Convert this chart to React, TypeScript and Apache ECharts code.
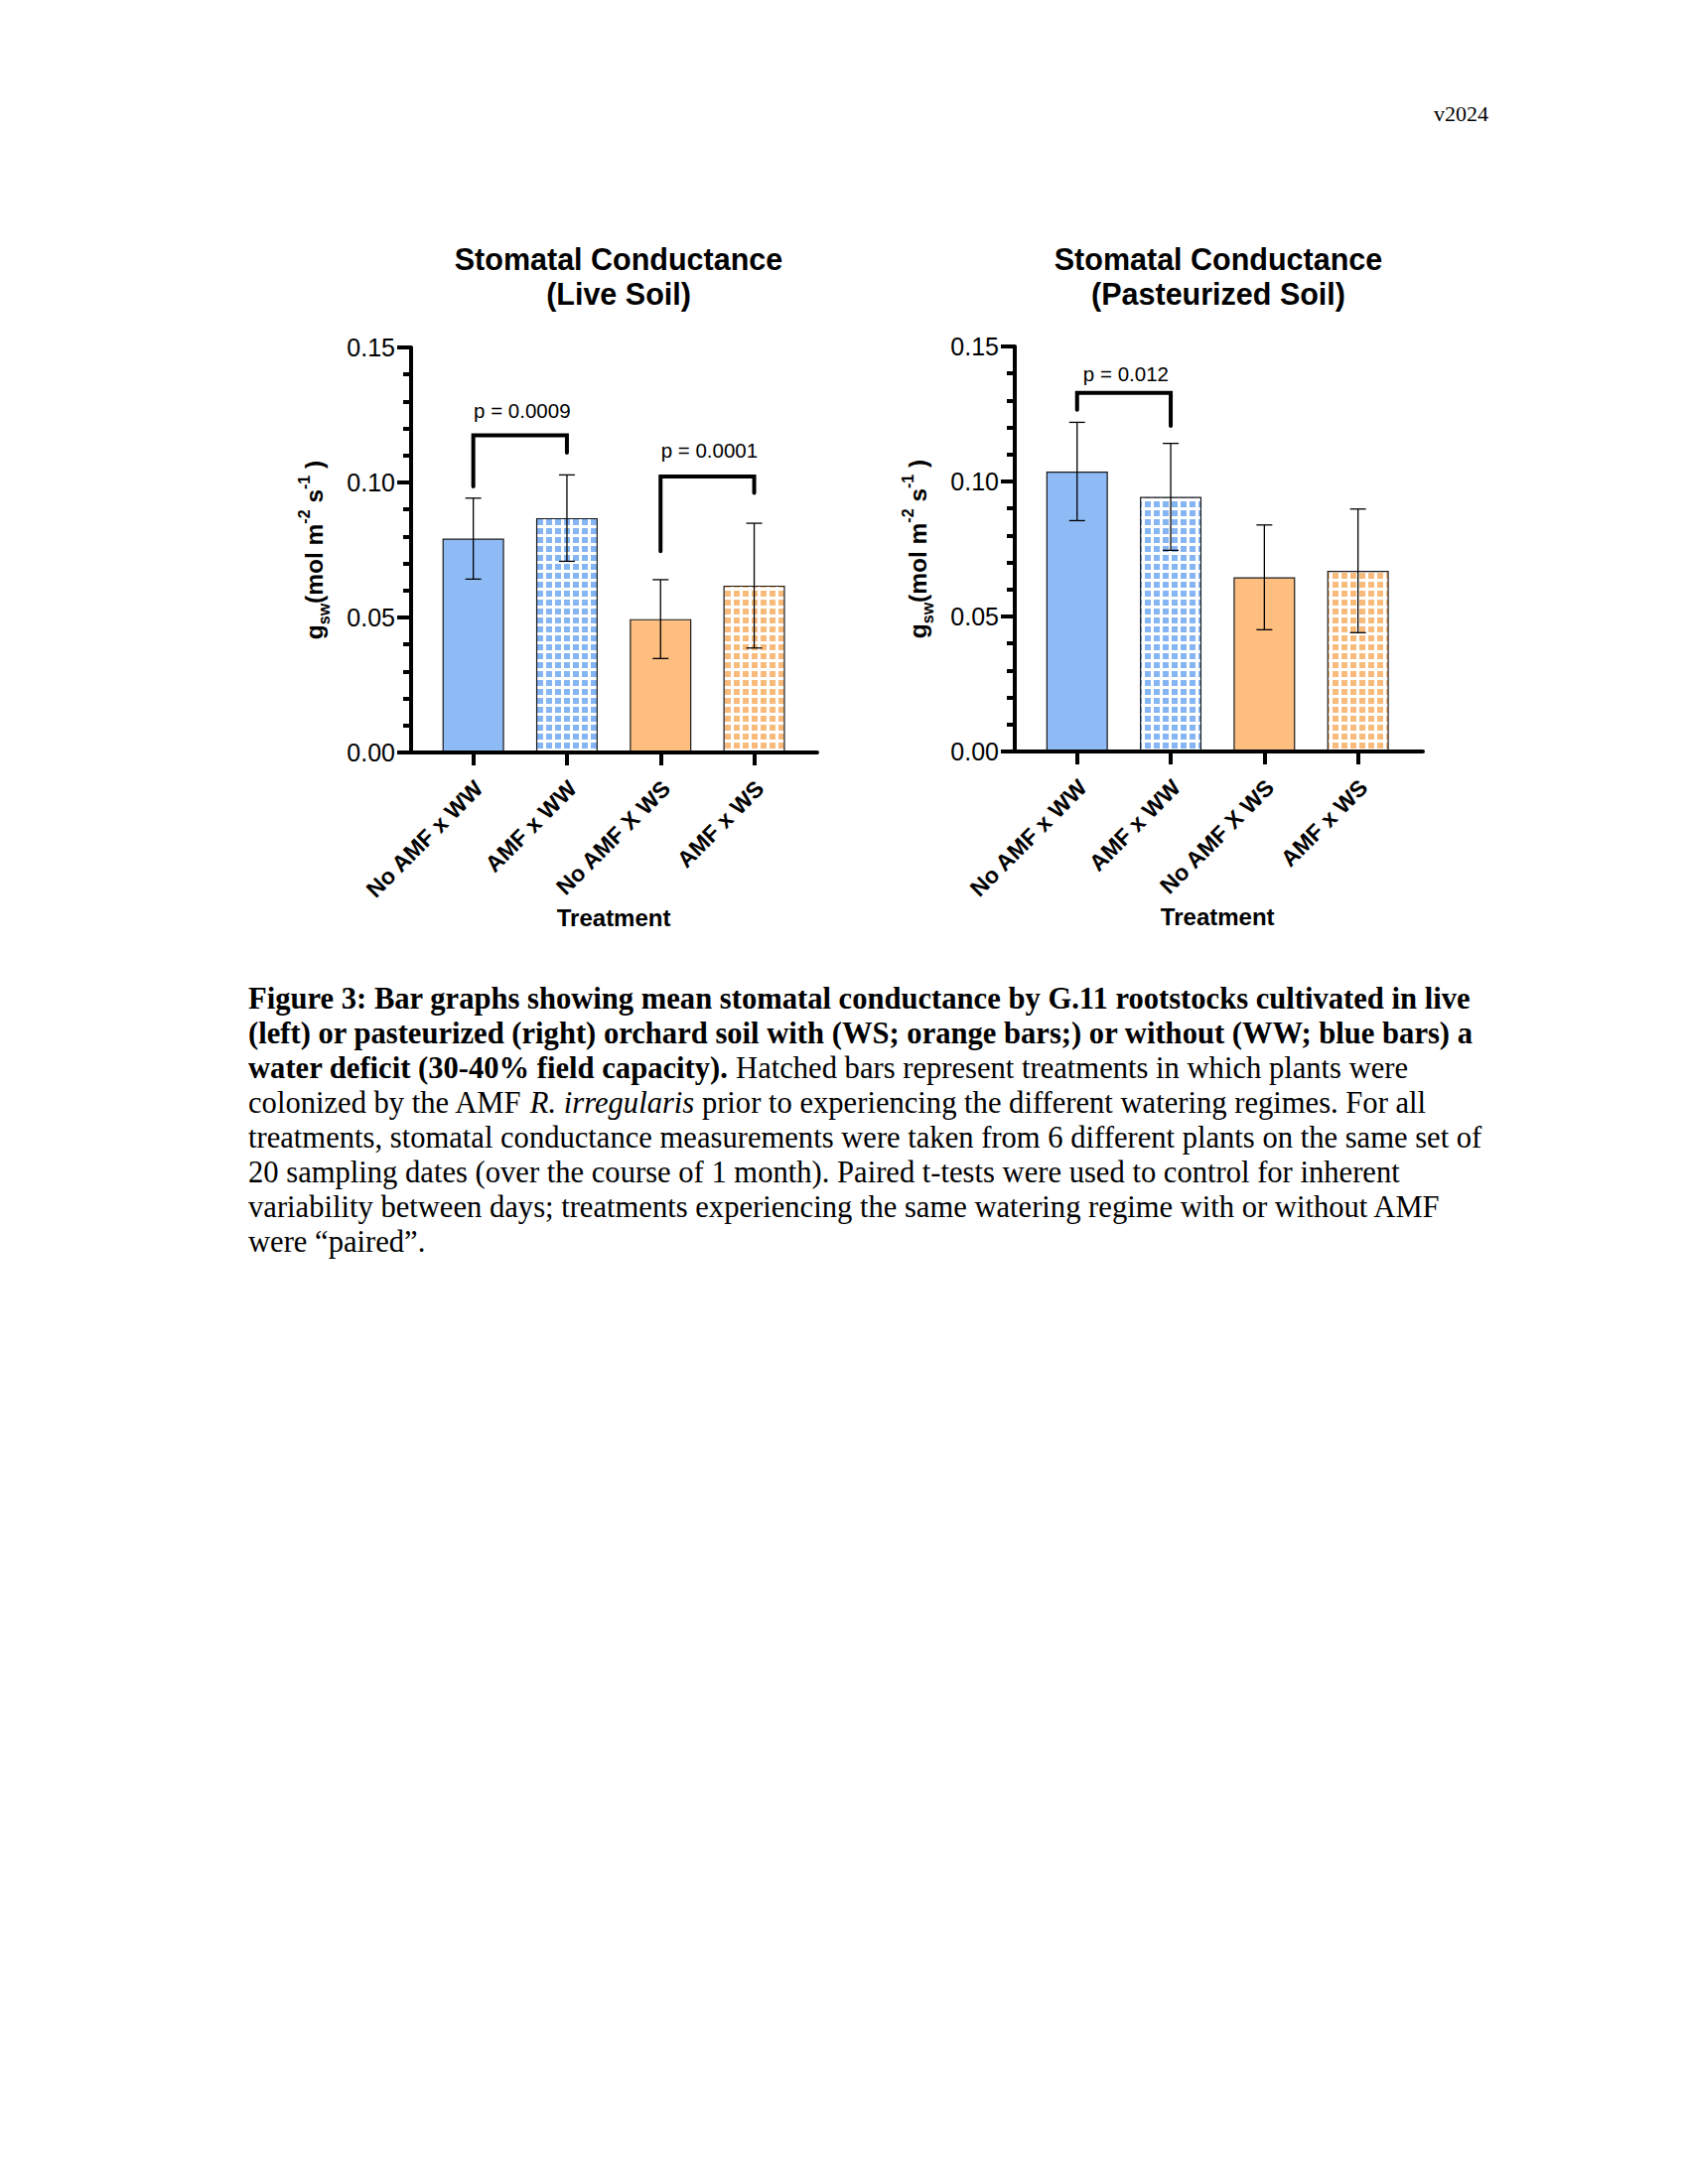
import React, { useEffect, useRef } from 'react';
import * as echarts from 'echarts';

// ---------- data ----------
const categories = ['No AMF x WW', 'AMF x WW', 'No AMF X WS', 'AMF x WS'];
const hatched = [false, true, false, true];
const regime = ['WW', 'WW', 'WS', 'WS'];

const liveMean = [0.0792, 0.0868, 0.0494, 0.0618];
const liveSD = [0.015, 0.016, 0.0146, 0.0231];
const pastMean = [0.1037, 0.0943, 0.0645, 0.0669];
const pastSD = [0.0182, 0.0198, 0.0194, 0.0229];

const yMin = 0;
const yMax = 0.15;
const yInterval = 0.05;

const liveBracketFrom = [0, 2];
const liveBracketTo = [1, 3];
const liveBracketTop = [0.1175, 0.1022];
const liveBracketLeftEnd = [0.0985, 0.0745];
const liveBracketRightEnd = [0.111, 0.0961];
const liveBracketLabelY = [0.1267, 0.1118];
const liveBracketLabel = ['p = 0.0009', 'p = 0.0001'];

const pastBracketFrom = [0];
const pastBracketTo = [1];
const pastBracketTop = [0.1328];
const pastBracketLeftEnd = [0.1266];
const pastBracketRightEnd = [0.1206];
const pastBracketLabelY = [0.140];
const pastBracketLabel = ['p = 0.012'];

const panelTitles = ['Stomatal Conductance\n(Live Soil)', 'Stomatal Conductance\n(Pasteurized Soil)'];
const xAxisTitle = 'Treatment';
const versionTag = 'v2024';

const captionLines: [string, string][][] = [
  [['b', 'Figure 3'], ['b', ': Bar graphs showing mean stomatal conductance by G.11 rootstocks cultivated in live']],
  [['b', '(left) or pasteurized (right) orchard soil with (WS; orange bars;) or without (WW; blue bars) a']],
  [['b', 'water deficit (30-40% field capacity).'], ['r', ' Hatched bars represent treatments in which plants were']],
  [['r', 'colonized by the AMF '], ['i', 'R. irregularis'], ['r', ' prior to experiencing the different watering regimes. For all']],
  [['r', 'treatments, stomatal conductance measurements were taken from 6 different plants on the same set of']],
  [['r', '20 sampling dates (over the course of 1 month). Paired t-tests were used to control for inherent']],
  [['r', 'variability between days; treatments experiencing the same watering regime with or without AMF']],
  [['r', 'were \u201Cpaired\u201D.']],
];

// ---------- styles ----------
const SANS = '"Liberation Sans", Arial, Helvetica, sans-serif';
const SERIF = '"Liberation Serif", "Times New Roman", serif';
const solidColor: Record<string, string> = { WW: '#8EBBF5', WS: '#FDBE7F' };
const hatchColor: Record<string, string> = { WW: '#86B5F3', WS: '#F9BB7C' };
const CAP_FS = 30.6;

function makePattern(color: string) {
  const c = document.createElement('canvas');
  c.width = 9;
  c.height = 9;
  const ctx = c.getContext('2d')!;
  ctx.fillStyle = '#ffffff';
  ctx.fillRect(0, 0, 9, 9);
  ctx.fillStyle = color;
  ctx.fillRect(1, 1, 6, 6);
  return { image: c, repeat: 'repeat', imageWidth: 9, imageHeight: 9 } as any;
}

function buildOption() {
  const panels = [
    {
      frame: { left: 414, top: 350, width: 409, height: 408 },
      bars: { left: 429.5, top: 350, width: 377.2, height: 408 },
      mean: liveMean,
      sd: liveSD,
      from: liveBracketFrom,
      to: liveBracketTo,
      top: liveBracketTop,
      le: liveBracketLeftEnd,
      re: liveBracketRightEnd,
      ly: liveBracketLabelY,
      lab: liveBracketLabel,
    },
    {
      frame: { left: 1022, top: 349, width: 411, height: 408 },
      bars: { left: 1037.6, top: 349, width: 377.2, height: 408 },
      mean: pastMean,
      sd: pastSD,
      from: pastBracketFrom,
      to: pastBracketTo,
      top: pastBracketTop,
      le: pastBracketLeftEnd,
      re: pastBracketRightEnd,
      ly: pastBracketLabelY,
      lab: pastBracketLabel,
    },
  ];

  const grid: any[] = [];
  const xAxis: any[] = [];
  const yAxis: any[] = [];
  const series: any[] = [];

  const patterns: Record<string, any> = { WW: makePattern(hatchColor.WW), WS: makePattern(hatchColor.WS) };

  panels.forEach((p, k) => {
    const fi = 2 * k;
    const bi = 2 * k + 1;
    grid.push({ ...p.frame, containLabel: false });
    grid.push({ ...p.bars, containLabel: false });

    xAxis.push({
      gridIndex: fi,
      type: 'value',
      min: 0,
      max: 1,
      z: 5,
      axisLine: { show: true, onZero: false, lineStyle: { color: '#000', width: 4 } },
      axisTick: { show: false },
      axisLabel: { show: false },
      splitLine: { show: false },
    });
    xAxis.push({
      gridIndex: bi,
      type: 'category',
      data: categories,
      z: 5,
      axisLine: { show: false },
      axisTick: { show: true, alignWithLabel: true, length: 13, lineStyle: { color: '#000', width: 4 } },
      axisLabel: {
        interval: 0,
        rotate: 45,
        margin: 38,
        padding: [0, -8, 0, 0],
        color: '#000',
        fontSize: 23,
        fontWeight: 'bold',
        fontFamily: SANS,
      },
      splitLine: { show: false },
      name: xAxisTitle,
      nameLocation: 'middle',
      nameGap: 154,
      nameTextStyle: { fontSize: 24, fontWeight: 'bold', color: '#000', fontFamily: SANS },
    });

    yAxis.push({
      gridIndex: fi,
      type: 'value',
      min: yMin,
      max: yMax,
      interval: yInterval,
      z: 5,
      axisLine: { show: true, onZero: false, lineStyle: { color: '#000', width: 4 } },
      axisTick: { show: true, length: 14, lineStyle: { color: '#000', width: 4 } },
      minorTick: { show: true, splitNumber: 5, length: 8, lineStyle: { color: '#000', width: 4 } },
      splitLine: { show: false },
      minorSplitLine: { show: false },
      axisLabel: {
        color: '#000',
        fontSize: 25,
        fontFamily: SANS,
        margin: 16,
        formatter: (v: number) => v.toFixed(2),
      },
      name: '{b|g}{s|sw}{b|(mol m}{p|-2}{b| s}{p|-1}{b| )}',
      nameLocation: 'middle',
      nameGap: 80,
      nameRotate: 90,
      nameTextStyle: {
        color: '#000',
        rich: {
          b: { fontSize: 24.5, fontWeight: 'bold', fontFamily: SANS, color: '#000', lineHeight: 36 },
          s: { fontSize: 16, fontWeight: 'bold', fontFamily: SANS, color: '#000', lineHeight: 16, verticalAlign: 'bottom' },
          p: { fontSize: 16, fontWeight: 'bold', fontFamily: SANS, color: '#000', lineHeight: 16, verticalAlign: 'top' },
        },
      },
    });
    yAxis.push({ gridIndex: bi, type: 'value', min: yMin, max: yMax, show: false });

    series.push({
      type: 'bar',
      xAxisIndex: bi,
      yAxisIndex: bi,
      barWidth: 62,
      z: 2,
      data: p.mean.map((v, i) => ({
        value: v,
        itemStyle: {
          color: hatched[i] ? patterns[regime[i]] : solidColor[regime[i]],
          borderColor: '#1a1a1a',
          borderWidth: 1.2,
        },
      })),
    });

    series.push({
      type: 'custom',
      xAxisIndex: bi,
      yAxisIndex: bi,
      z: 3,
      encode: { x: 0, y: [1, 2] },
      data: p.mean.map((m, i) => [i, m - p.sd[i], m + p.sd[i]]),
      renderItem: (_params: any, api: any) => {
        const i = api.value(0);
        const lo = api.coord([i, api.value(1)]);
        const hi = api.coord([i, api.value(2)]);
        const hw = 8;
        const st = { stroke: '#000', lineWidth: 1.3 };
        return {
          type: 'group',
          children: [
            { type: 'line', shape: { x1: hi[0], y1: hi[1], x2: lo[0], y2: lo[1] }, style: st },
            { type: 'line', shape: { x1: hi[0] - hw, y1: hi[1], x2: hi[0] + hw, y2: hi[1] }, style: st },
            { type: 'line', shape: { x1: lo[0] - hw, y1: lo[1], x2: lo[0] + hw, y2: lo[1] }, style: st },
          ],
        };
      },
    });

    const labels = p.lab;
    series.push({
      type: 'custom',
      xAxisIndex: bi,
      yAxisIndex: bi,
      z: 4,
      encode: { x: 0, y: [2, 3, 4, 5] },
      data: p.from.map((f, i) => [f, p.to[i], p.top[i], p.le[i], p.re[i], p.ly[i]]),
      renderItem: (params: any, api: any) => {
        const f = api.value(0);
        const t = api.value(1);
        const pL = api.coord([f, api.value(3)]);
        const pLT = api.coord([f, api.value(2)]);
        const pRT = api.coord([t, api.value(2)]);
        const pR = api.coord([t, api.value(4)]);
        const pLab = api.coord([f, api.value(5)]);
        const midX = (pLT[0] + pRT[0]) / 2;
        return {
          type: 'group',
          children: [
            {
              type: 'polyline',
              shape: { points: [pL, pLT, pRT, pR] },
              style: { stroke: '#000', lineWidth: 4, fill: null, lineJoin: 'miter', lineCap: 'round' },
            },
            {
              type: 'text',
              x: midX + 2,
              y: pLab[1],
              style: {
                text: labels[params.dataIndex],
                fontSize: 20.5,
                fontFamily: SANS,
                fill: '#000',
                align: 'center',
                verticalAlign: 'middle',
                textAlign: 'center',
                textVerticalAlign: 'middle',
              },
            },
          ],
        };
      },
    });
  });

  const titleCenters = [623, 1227];
  const graphic: any[] = [];
  panelTitles.forEach((t, k) => {
    graphic.push({
      type: 'text',
      x: titleCenters[k],
      y: 278.5,
      style: {
        text: t,
        fontSize: 30.5,
        fontWeight: 'bold',
        fontFamily: SANS,
        fill: '#000',
        lineHeight: 35,
        align: 'center',
        verticalAlign: 'middle',
        textAlign: 'center',
        textVerticalAlign: 'middle',
      },
    });
  });

  graphic.push({
    type: 'text',
    x: 1499,
    y: 114,
    style: {
      text: versionTag,
      fontSize: 22,
      fontFamily: SERIF,
      fill: '#000',
      align: 'right',
      verticalAlign: 'middle',
      textAlign: 'right',
      textVerticalAlign: 'middle',
    },
  });

  const capRich = {
    b: { fontSize: CAP_FS, fontWeight: 'bold', fontFamily: SERIF, color: '#000' },
    r: { fontSize: CAP_FS, fontFamily: SERIF, color: '#000' },
    i: { fontSize: CAP_FS, fontStyle: 'italic', fontFamily: SERIF, color: '#000' },
  };
  captionLines.forEach((segs, li) => {
    graphic.push({
      type: 'text',
      x: 250,
      y: 1005.7 + 35.07 * li,
      style: {
        text: segs.map(([k, s]) => `{${k}|${s}}`).join(''),
        rich: capRich,
        fontSize: CAP_FS,
        fontFamily: SERIF,
        fill: '#000',
        align: 'left',
        verticalAlign: 'middle',
        textAlign: 'left',
        textVerticalAlign: 'middle',
      },
    });
  });

  return {
    animation: false,
    backgroundColor: '#ffffff',
    grid,
    xAxis,
    yAxis,
    series,
    graphic,
  };
}

export default function App() {
  const ref = useRef<HTMLDivElement>(null);
  useEffect(() => {
    const chart = echarts.init(ref.current!, null, { renderer: 'svg' });
    chart.setOption(buildOption() as any);
    return () => chart.dispose();
  }, []);
  return (
    <div
      ref={ref}
      style={{ position: 'absolute', left: 0, top: 0, width: 1700, height: 2200, background: '#fff' }}
    />
  );
}
